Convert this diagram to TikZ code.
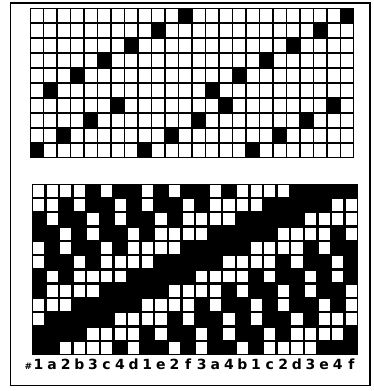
\documentclass[tikz,border=0pt]{standalone}
\usepackage{fontspec}
\setmainfont{DejaVu Sans}
\begin{document}
\begin{tikzpicture}[x=1pt,y=-1pt,
  lbl/.style={inner sep=0pt,anchor=base,font=\fontsize{14}{14}\selectfont\bfseries},
  whitecell/.style={fill=white}]
\useasboundingbox (0,0) rectangle (373,391);
\fill[white] (0,0) rectangle (373,391);
% outer frame
\draw[line width=1.8pt] (10.5,3) rectangle (370,385.5);
% ---------- top grid (threading), 24 x 10 ----------
\fill[black] (30,8) rectangle (354,158);
\foreach \rr in {1,...,10}{%
  \foreach \cc in {1,...,24}{%
    \pgfmathtruncatemacro\hv{mod(div(\cc-1,2),4)}%
    \pgfmathtruncatemacro\lv{mod(div(\cc,2)+5,6)}%
    \pgfmathtruncatemacro\blk{ifthenelse(mod(\cc,2)==1, and(\rr>6, \hv==10-\rr), and(\rr<7, \lv==6-\rr))}%
    \ifnum\blk=0
      \fill[whitecell] ({30+13.5*(\cc-1)+0.8},{8+15*(\rr-1)+0.8}) rectangle ++(11.9,13.4);
    \fi
  }%
}
% ---------- bottom grid (drawdown), 24 x 12 ----------
\fill[black] (31.7,183.5) rectangle (358.1,355.1);
\foreach \rr in {1,...,12}{%
  \foreach \cc in {1,...,24}{%
    \pgfmathtruncatemacro\hv{mod(div(\cc-1,2),4)}%
    \pgfmathtruncatemacro\lv{mod(div(\cc,2)+5,6)}%
    \pgfmathtruncatemacro\wht{ifthenelse(mod(\cc,2)==1, mod(\hv+mod(\rr-1,4),4)<2, mod(\lv+mod(\rr-1,6),6)<3)}%
    \ifnum\wht=1
      \fill[whitecell] ({31.7+13.6*(\cc-1)+1.2},{183.5+14.3*(\rr-1)+1.2}) rectangle ++(11.2,11.9);
    \fi
  }%
}
% ---------- labels ----------
\node[lbl,font=\fontsize{9}{9}\selectfont\bfseries] (hash) at (28.5,369.5) {\#};
\foreach \t [count=\k] in {1,a,2,b,3,c,4,d,1,e,2,f,3,a,4,b,1,c,2,d,3,e,4,f}{%
  \node[lbl] (lab\k) at ({31.7+13.6*(\k-0.5)},369.5) {\t};
}
\end{tikzpicture}
\end{document}
